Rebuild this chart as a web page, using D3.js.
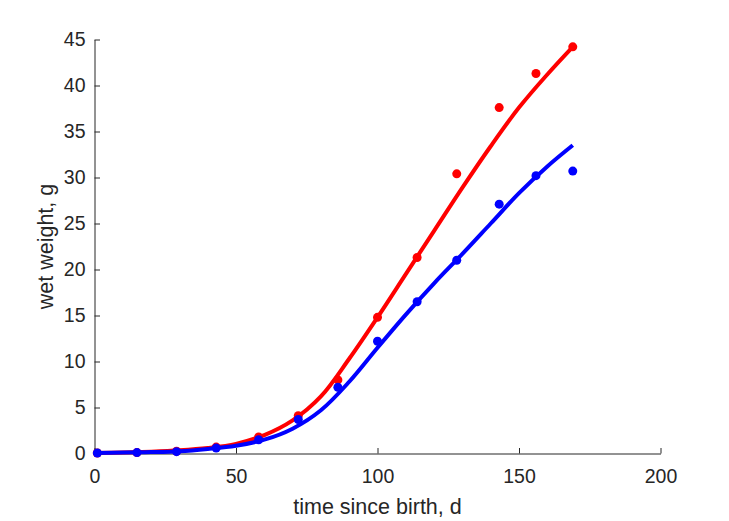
<!DOCTYPE html>
<html>
<head>
<meta charset="utf-8">
<script src="https://cdn.jsdelivr.net/npm/d3@7"></script>
<style>
  body { margin: 0; background: #fff; }
  svg { display: block; }
  .axis path, .axis line { stroke: #262626; }
  .axis text { fill: #262626; font-family: 'Liberation Sans', Arial, sans-serif; font-size: 19.5px; }
  .label { fill: #262626; font-family: 'Liberation Sans', Arial, sans-serif; font-size: 21.5px; }
</style>
</head>
<body>
<script>
const width = 729
const height = 521

// observed data, time since birth (d)
const days = [1, 15, 29, 43, 58, 72, 86, 100, 114, 128, 143, 156, 169]
const redWeight = [0.05, 0.1, 0.25, 0.7, 1.8, 4.1, 8.0, 14.8, 21.3, 30.4, 37.6, 41.3, 44.2]
const blueWeight = [0.05, 0.1, 0.2, 0.6, 1.5, 3.7, 7.2, 12.2, 16.5, 21.0, 27.1, 30.2, 30.7]

// fitted curves
const fitDays = [0, 10, 20, 30, 40, 50, 60, 70, 80, 90, 100, 110, 120, 130, 140, 150, 160, 169]
const redFit = [0.05, 0.1, 0.2, 0.35, 0.6, 1.05, 2.0, 3.6, 6.2, 10.3, 14.8, 19.5, 24.2, 28.9, 33.4, 37.6, 41.2, 44.2]
const blueFit = [0.05, 0.1, 0.15, 0.25, 0.5, 0.85, 1.5, 2.7, 4.7, 7.8, 11.5, 15.1, 18.5, 21.7, 25.0, 28.3, 31.2, 33.5]

const xTicks = [0, 50, 100, 150, 200]
const yTicks = [0, 5, 10, 15, 20, 25, 30, 35, 40, 45]

const x = d3.scaleLinear().domain([0, 200]).range([94.5, 660.5])
const y = d3.scaleLinear().domain([0, 45]).range([453.5, 39.5])

const svg = d3.select('body')
    .append('svg')
    .attr('width', width)
    .attr('height', height)

const xAxis = svg.append('g')
    .attr('class', 'axis')
    .attr('transform', `translate(0,${y(0)})`)
    .call(d3.axisBottom(x).tickValues(xTicks).tickSizeInner(-5.5).tickSizeOuter(0).tickPadding(15.5))
xAxis.selectAll('text').attr('dy', '0.71em')

const yAxis = svg.append('g')
    .attr('class', 'axis')
    .attr('transform', `translate(${x(0)},0)`)
    .call(d3.axisLeft(y).tickValues(yTicks).tickSizeInner(-5.5).tickSizeOuter(0).tickPadding(9))

svg.selectAll('.axis .domain').attr('stroke-width', 1)

svg.append('text')
    .attr('class', 'label')
    .attr('x', (x(0) + x(200)) / 2)
    .attr('y', 514)
    .attr('text-anchor', 'middle')
    .text('time since birth, d')

svg.append('text')
    .attr('class', 'label')
    .attr('transform', `translate(53,${(y(0) + y(45)) / 2}) rotate(-90)`)
    .attr('text-anchor', 'middle')
    .text('wet weight, g')

const line = d3.line()
    .x(d => x(d[0]))
    .y(d => y(d[1]))
    .curve(d3.curveCatmullRom.alpha(0.5))

function drawSeries (fit, obs, color) {
    svg.append('path')
        .datum(fitDays.map((d, i) => [d, fit[i]]))
        .attr('fill', 'none')
        .attr('stroke', color)
        .attr('stroke-width', 4)
        .attr('d', line)

    svg.append('g')
        .selectAll('circle')
        .data(days.map((d, i) => [d, obs[i]]))
        .enter()
        .append('circle')
        .attr('cx', d => x(d[0]))
        .attr('cy', d => y(d[1]))
        .attr('r', 4.5)
        .attr('fill', color)
}

drawSeries(redFit, redWeight, '#ff0000')
drawSeries(blueFit, blueWeight, '#0000ff')
</script>
</body>
</html>
